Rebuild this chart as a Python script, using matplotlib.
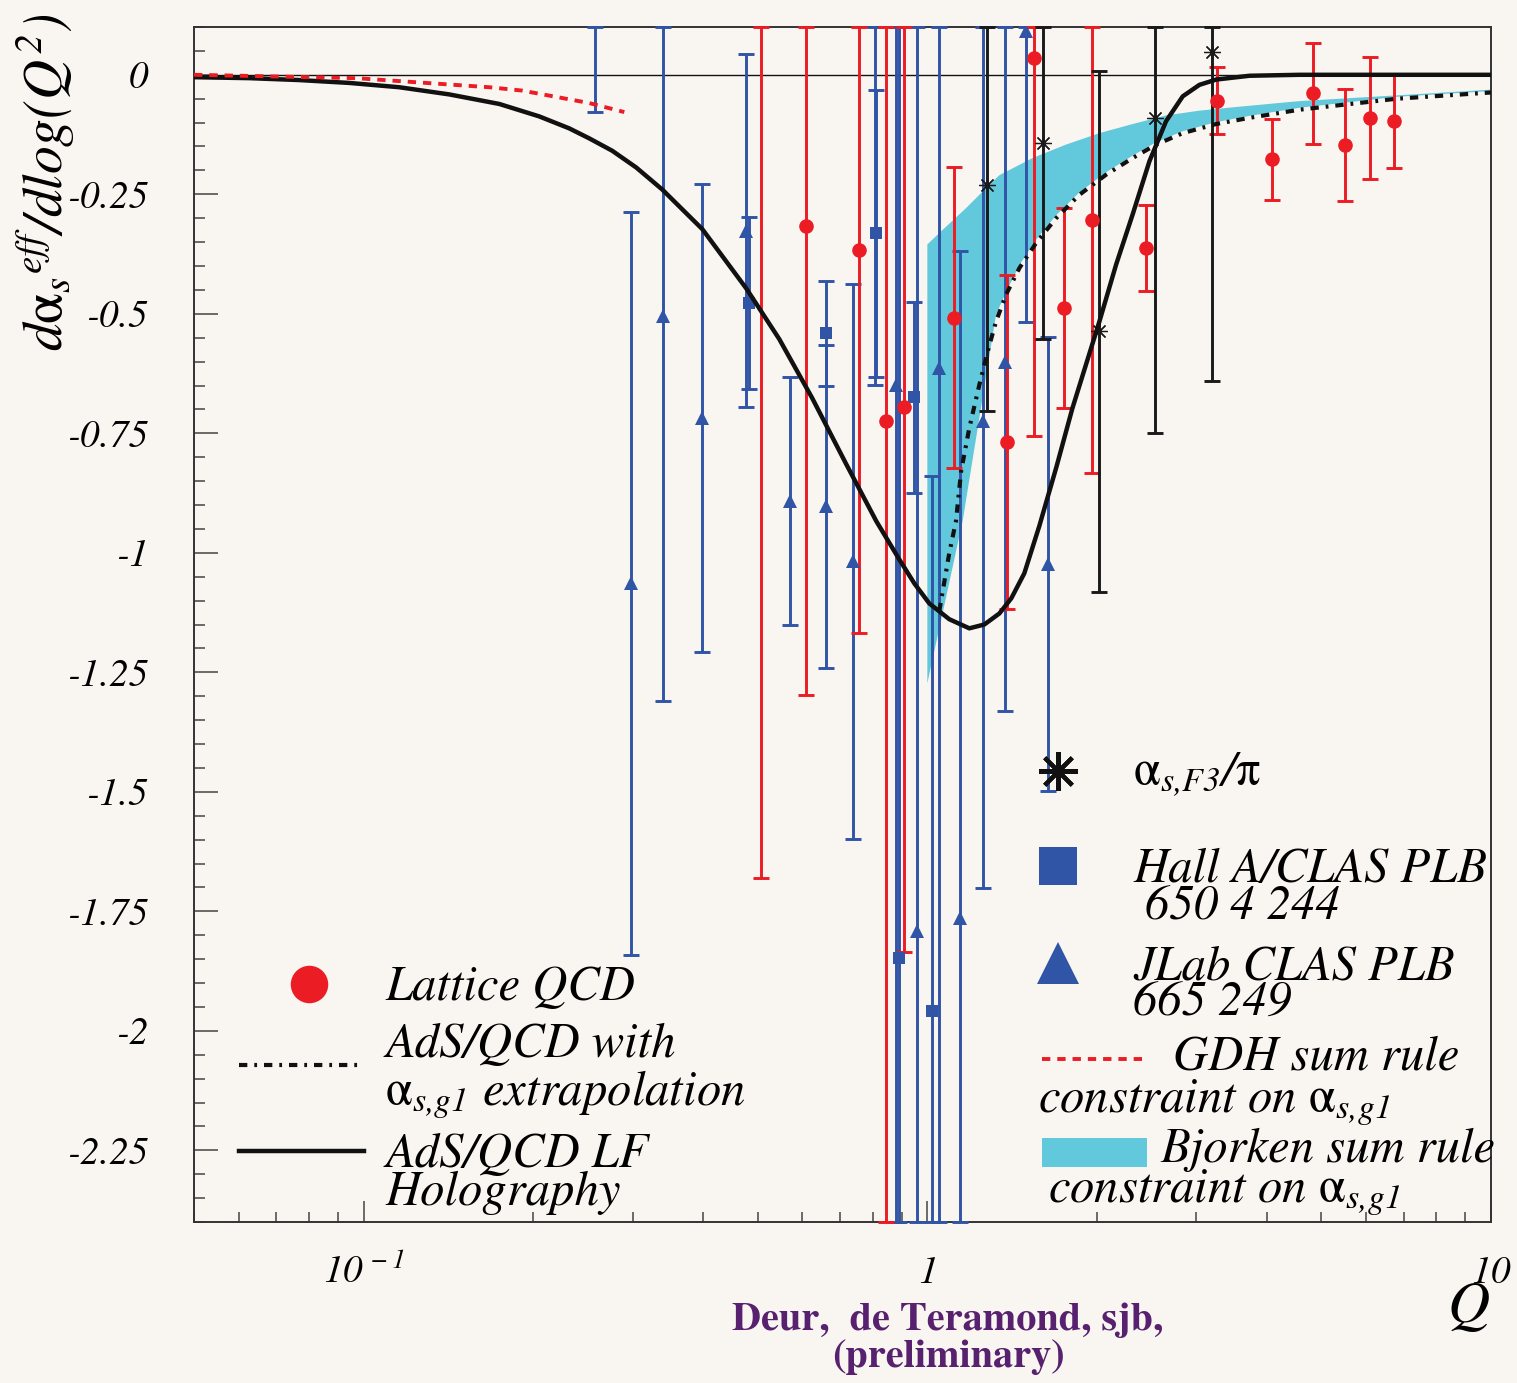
import numpy as np
import matplotlib
matplotlib.use('Agg')
import matplotlib.pyplot as plt
from matplotlib.ticker import FixedLocator, FuncFormatter, LogLocator, NullFormatter, MultipleLocator
from matplotlib.lines import Line2D
from matplotlib.patches import Rectangle

plt.rcParams['mathtext.fontset'] = 'custom'
plt.rcParams['mathtext.rm'] = 'STIXGeneral:italic'
plt.rcParams['mathtext.it'] = 'STIXGeneral:italic'
plt.rcParams['mathtext.sf'] = 'STIXGeneral'
plt.rcParams['mathtext.bf'] = 'STIXGeneral:bold'
plt.rcParams['lines.scale_dashes'] = False

# ---------------- data ----------------
lattice_Q = [0.507, 0.609, 0.757, 0.845, 0.910, 1.117, 1.383, 1.548, 1.751, 1.960,
             2.444, 3.267, 4.083, 4.842, 5.512, 6.095, 6.724]
lattice_val = [0.15, -0.317, -0.367, -0.725, -0.696, -0.508, -0.768, 0.035, -0.488, -0.304,
               -0.363, -0.054, -0.177, -0.039, -0.146, -0.091, -0.096]
lattice_err = [1.83, 0.98, 0.80, 2.5, 1.14, 0.315, 0.35, 0.79, 0.21, 0.53,
               0.09, 0.07, 0.085, 0.105, 0.117, 0.128, 0.098]

hallA_Q = [0.482, 0.661, 0.808, 0.811, 0.892, 0.948, 1.020]
hallA_val = [-0.477, -0.541, 0.35, -0.332, -1.848, -0.675, -1.959]
hallA_err = [0.18, 0.11, 1.0, 0.30, 2.5, 0.20, 1.12]

clas_Q = [0.257, 0.298, 0.340, 0.399, 0.477, 0.571, 0.661, 0.737, 0.880, 0.960,
          1.050, 1.145, 1.254, 1.371, 1.497, 1.635]
clas_val = [0.30, -1.064, -0.505, -0.718, -0.326, -0.892, -0.903, -1.018, -0.648, -1.792,
            -0.613, -1.763, -0.725, -0.601, 0.092, -1.024]
clas_err = [0.377, 0.777, 0.806, 0.49, 0.37, 0.26, 0.337, 0.58, 3.0, 3.0,
            3.0, 1.394, 0.977, 0.73, 0.61, 0.475]

f3_Q = [1.274, 1.607, 2.020, 2.539, 3.201]
f3_val = [-0.230, -0.143, -0.537, -0.090, 0.048]
f3_err = [0.473, 0.41, 0.544, 0.66, 0.688]

gdh_Q = [0.050, 0.0969, 0.167, 0.191, 0.251, 0.290]
gdh_val = [0.000, -0.007, -0.026, -0.033, -0.059, -0.078]

holo_Q = [0.050, 0.0626, 0.0768, 0.0943, 0.1156, 0.1418, 0.1740, 0.2048, 0.2315, 0.2513,
          0.2761, 0.3045, 0.3386, 0.3989, 0.4773, 0.5462, 0.6252, 0.7183, 0.8119, 0.8919,
          0.9482, 1.0082, 1.0939, 1.1871, 1.2622, 1.3420, 1.4095, 1.4860, 1.5800, 1.6938,
          1.8083, 1.9122, 2.0197, 2.1623, 2.3136, 2.4774, 2.6520, 2.8389, 3.0389, 3.2535,
          3.7277, 4.5733, 10.0]
holo_val = [-0.005, -0.007, -0.011, -0.017, -0.026, -0.041, -0.061, -0.087, -0.112, -0.133,
            -0.159, -0.194, -0.240, -0.323, -0.447, -0.553, -0.677, -0.815, -0.934, -1.014,
            -1.064, -1.106, -1.139, -1.158, -1.150, -1.127, -1.095, -1.043, -0.944, -0.821,
            -0.698, -0.606, -0.516, -0.397, -0.292, -0.181, -0.097, -0.045, -0.021, -0.010,
            -0.002, 0.0, 0.0]

ext_Q = [1.050, 1.094, 1.124, 1.148, 1.187, 1.237, 1.280, 1.324, 1.379, 1.457,
         1.559, 1.692, 1.861, 2.075, 2.314, 2.546, 2.839, 3.253, 3.728, 4.573, 6.810, 10.0]
ext_val = [-1.122, -1.000, -0.934, -0.829, -0.739, -0.648, -0.578, -0.516, -0.460, -0.404,
           -0.352, -0.300, -0.251, -0.209, -0.174, -0.146, -0.122, -0.103, -0.090, -0.073, -0.050, -0.037]

bj_up_Q = [1.000, 1.050, 1.171, 1.271, 1.342, 1.538, 1.762, 2.020, 2.314, 2.652,
           3.039, 3.482, 4.573, 6.810, 10.0]
bj_up_val = [-0.355, -0.331, -0.279, -0.237, -0.210, -0.174, -0.146, -0.122, -0.103, -0.085,
             -0.075, -0.068, -0.055, -0.043, -0.031]
bj_lo_Q = [1.000, 1.155, 1.324, 1.379, 1.457, 1.559, 1.692, 1.861, 2.075, 2.314,
           2.546, 2.839, 3.253, 3.728, 4.573, 6.810, 10.0]
bj_lo_val = [-1.273, -0.934, -0.502, -0.455, -0.398, -0.345, -0.294, -0.246, -0.204, -0.169,
             -0.141, -0.118, -0.099, -0.086, -0.069, -0.046, -0.034]

y_ticks = [0, -0.25, -0.5, -0.75, -1, -1.25, -1.5, -1.75, -2, -2.25]
x_ticks = [0.1, 1, 10]
x_ticklabels = [r'$10^{\,-1}$', r'$1$', r'$10$']

# ---------------- style ----------------
W, H = 1517, 1383
BG = '#f9f6f1'
RED = '#ec1c24'
BLUE = '#3054a6'
CYAN = '#62c9dc'
PURPLE = '#57216f'
YLO, YHI = -2.4, 0.1
SERIF = 'STIXGeneral'

fig = plt.figure(figsize=(W / 100, H / 100), dpi=100, facecolor=BG)
ax = fig.add_axes([194 / W, 1 - 1222 / H, (1491 - 194) / W, (1222 - 27) / H])
ax.set_facecolor(BG)
ax.set_xscale('log')
ax.set_xlim(0.05, 10)
ax.set_ylim(YLO, YHI)

# band
band_x = np.concatenate([bj_up_Q, bj_lo_Q[::-1]])
band_y = np.concatenate([bj_up_val, bj_lo_val[::-1]])
ax.fill(band_x, band_y, color=CYAN, lw=0, zorder=1)

ax.axhline(0, color='#111111', lw=1.0, zorder=1.5)


def draw_err(Q, val, err, color, marker, ms, z=3, star=False):
    Q = np.asarray(Q, float)
    val = np.asarray(val, float)
    err = np.asarray(err, float)
    lo = np.clip(val - err, YLO, YHI)
    hi = np.clip(val + err, YLO, YHI)
    ax.vlines(Q, lo, hi, colors=color, lw=2.1, zorder=z)
    for ends in (lo, hi):
        ax.plot(Q, ends, ls='none', marker='_', ms=11, mew=2.1, color=color,
                zorder=z, clip_on=False)
    if star:
        ax.plot(Q, val, ls='none', marker=(8, 2, 0), ms=12, mew=0.9,
                color=color, zorder=z + 0.1)
    else:
        ax.plot(Q, val, ls='none', marker=marker, ms=ms, mew=0, color=color,
                zorder=z + 0.1)


draw_err(clas_Q, clas_val, clas_err, BLUE, '^', 10.5)
draw_err(hallA_Q, hallA_val, hallA_err, BLUE, 's', 9)
draw_err(lattice_Q, lattice_val, lattice_err, RED, 'o', 10.5)
draw_err(f3_Q, f3_val, f3_err, '#1a1a1a', None, 12, star=True)

# curves
ax.plot(holo_Q, holo_val, color='#111111', lw=3.2, zorder=5,
        solid_capstyle='round', solid_joinstyle='round')
l_ext, = ax.plot(ext_Q, ext_val, color='#111111', lw=3.0, zorder=5)
l_ext.set_dashes([6, 5, 2, 5])
l_gdh, = ax.plot(gdh_Q, gdh_val, color=RED, lw=2.8, zorder=5)
l_gdh.set_dashes([6, 5])

# ticks
ax.yaxis.set_major_locator(FixedLocator(y_ticks))
ax.yaxis.set_minor_locator(MultipleLocator(0.05))
ax.yaxis.set_major_formatter(FuncFormatter(lambda v, p: '0' if abs(v) < 1e-9 else '%g' % v))
ax.xaxis.set_major_locator(FixedLocator(x_ticks))
ax.xaxis.set_major_formatter(FuncFormatter(lambda v, p: x_ticklabels[int(round(np.log10(v))) + 1]))
ax.xaxis.set_minor_locator(LogLocator(base=10, subs=[2, 3, 4, 5, 6, 7, 8, 9]))
ax.xaxis.set_minor_formatter(NullFormatter())
ax.tick_params(which='both', direction='in', top=False, right=False, color='#444444', width=1.1)
ax.tick_params(axis='y', which='major', length=17, pad=33)
ax.tick_params(axis='y', which='minor', length=8)
ax.tick_params(axis='x', which='major', length=15, pad=22)
ax.tick_params(axis='x', which='minor', length=7)
for lab in ax.get_yticklabels():
    lab.set_fontfamily(SERIF)
    lab.set_fontstyle('italic')
    lab.set_fontsize(28)
for lab in ax.get_xticklabels():
    lab.set_fontsize(28)
for sp in ax.spines.values():
    sp.set_linewidth(1.4)
    sp.set_color('#333333')


def T(px, py, s, **kw):
    kw.setdefault('family', SERIF)
    kw.setdefault('style', 'italic')
    kw.setdefault('size', 35)
    kw.setdefault('va', 'baseline')
    kw.setdefault('ha', 'left')
    fig.text(px / W, 1 - py / H, s, **kw)


def fline(x1, x2, y, **kw):
    ln = Line2D([x1 / W, x2 / W], [1 - y / H, 1 - y / H], transform=fig.transFigure, **kw)
    fig.add_artist(ln)
    return ln


def fmark(x, y, **kw):
    fig.add_artist(Line2D([x / W], [1 - y / H], transform=fig.transFigure, ls='none', **kw))


ALPHA = r'\mathsf{\alpha}'
# y label
T(46, 182, r'$d' + ALPHA + r'_{s}{}^{eff}/dlog(Q^{2})$', size=40, rotation=90,
  va='center', ha='center')
# Q label
T(1490, 1322, 'Q', size=42, ha='right')
# credits
T(948, 1330, 'Deur,  de Teramond, sjb,', style='normal', weight='bold', size=29,
  color=PURPLE, ha='center')
T(948, 1367, '(preliminary)', style='normal', weight='bold', size=29, color=PURPLE, ha='center')

# left legend
fmark(309, 984, marker='o', ms=27, color=RED, mew=0)
T(385, 1000, 'Lattice QCD')
l1 = fline(239, 364, 1065, color='#111111', lw=3.0)
l1.set_dashes([6, 5, 2, 5])
T(385, 1057, 'AdS/QCD with')
T(385, 1105, r'$' + ALPHA + r'_{s{,}g1}$ extrapolation')
fline(239, 364, 1151, color='#111111', lw=3.2)
T(385, 1167, 'AdS/QCD LF')
T(385, 1205, 'Holography')

# right legend
fmark(1058, 771, marker=(8, 2, 0), ms=28, mew=3.0, color='#111111')
T(1133, 786, r'$' + ALPHA + r'_{s{,}F3}/\mathsf{\pi}$')
fmark(1058, 866, marker='s', ms=27, mew=0, color=BLUE)
T(1133, 882, 'Hall A/CLAS PLB')
T(1145, 920, '650 4 244')
fmark(1058, 963, marker='^', ms=30, mew=0, color=BLUE)
T(1133, 980, 'JLab CLAS PLB')
T(1133, 1016, '665 249')
l2 = fline(1042, 1147, 1059, color=RED, lw=2.8)
l2.set_dashes([6, 5])
T(1173, 1070, 'GDH sum rule')
T(1038, 1112, r'constraint on $' + ALPHA + r'_{s{,}g1}$')
fig.add_artist(Rectangle((1042 / W, 1 - 1167 / H), (1147 - 1042) / W, 29 / H,
                         transform=fig.transFigure, color=CYAN, lw=0))
T(1160, 1162, 'Bjorken sum rule')
T(1048, 1202, r'constraint on $' + ALPHA + r'_{s{,}g1}$')

fig.savefig('out.png', dpi=100, facecolor=BG)
